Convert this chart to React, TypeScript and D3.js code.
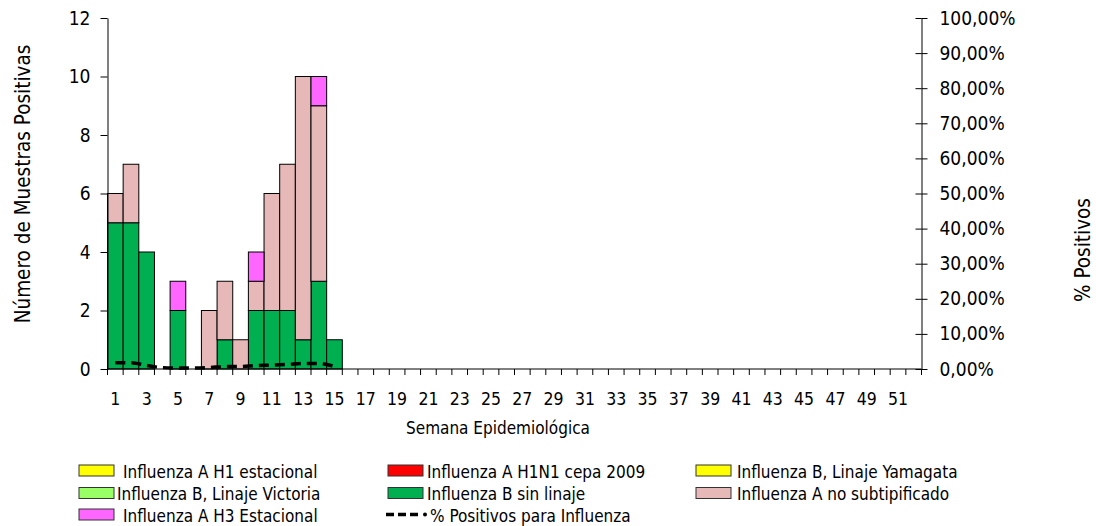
import React, { useEffect, useRef } from "react";
import * as d3 from "d3";

// semanas epidemiológicas del eje x
const weeks: number[] = d3.range(1, 53);
const dataWeeks = [1, 2, 3, 4, 5, 6, 7, 8, 9, 10, 11, 12, 13, 14, 15];

// muestras positivas por semana (semanas 1 a 15)
const fluAH1Estacional = [0, 0, 0, 0, 0, 0, 0, 0, 0, 0, 0, 0, 0, 0, 0];
const fluAH1N1 = [0, 0, 0, 0, 0, 0, 0, 0, 0, 0, 0, 0, 0, 0, 0];
const fluBYamagata = [0, 0, 0, 0, 0, 0, 0, 0, 0, 0, 0, 0, 0, 0, 0];
const fluBVictoria = [0, 0, 0, 0, 0, 0, 0, 0, 0, 0, 0, 0, 0, 0, 0];
const fluBSinLinaje = [5, 5, 4, 0, 2, 0, 0, 1, 0, 2, 2, 2, 1, 3, 1];
const fluANoSubtip = [1, 2, 0, 0, 0, 0, 2, 2, 1, 1, 4, 5, 9, 6, 0];
const fluAH3 = [0, 0, 0, 0, 1, 0, 0, 0, 0, 1, 0, 0, 0, 1, 0];

// % positivos para influenza
const pctPositivos = [1.8, 1.8, 1.0, 0.4, 0.3, 0.3, 0.4, 0.7, 0.7, 1.0, 1.1, 1.3, 1.6, 1.6, 0.7];

const leftTicks = [0, 2, 4, 6, 8, 10, 12];
const rightTicks = [0, 0.1, 0.2, 0.3, 0.4, 0.5, 0.6, 0.7, 0.8, 0.9, 1];

const seriesKeys = ["h1est", "h1n1", "byam", "bvic", "bsin", "anosub", "h3"];
const seriesLabels: { [k: string]: string } = {
  h1est: "Influenza A H1 estacional",
  h1n1: "Influenza A H1N1 cepa 2009",
  byam: "Influenza B, Linaje Yamagata",
  bvic: "Influenza B, Linaje Victoria",
  bsin: "Influenza B sin linaje",
  anosub: "Influenza A no subtipificado",
  h3: "Influenza A H3 Estacional",
};
const seriesColors: { [k: string]: string } = {
  h1est: "#FFFF00",
  h1n1: "#FF0000",
  byam: "#FFFF00",
  bvic: "#99FF66",
  bsin: "#00B050",
  anosub: "#E6B9B8",
  h3: "#FF66FF",
};

const FONT = "'DejaVu Sans Condensed', 'DejaVu Sans', sans-serif";

const Chart: React.FC = () => {
  const svgRef = useRef<SVGSVGElement | null>(null);

  useEffect(() => {
    const width = 1096;
    const height = 526;
    const left = 107.5;
    const right = 921.5;
    const top = 18;
    const bottom = 369;

    const svg = d3.select(svgRef.current);
    svg.selectAll("*").remove();
    svg.attr("width", width).attr("height", height).style("font-family", FONT);

    const x = d3.scaleBand<number>().domain(weeks).range([left, right]).padding(0);
    const yLeft = d3.scaleLinear().domain([0, 12]).range([bottom, top]);
    const yRight = d3.scaleLinear().domain([0, 1]).range([bottom, top]);

    const rows = dataWeeks.map((w, i) => ({
      week: w,
      h1est: fluAH1Estacional[i],
      h1n1: fluAH1N1[i],
      byam: fluBYamagata[i],
      bvic: fluBVictoria[i],
      bsin: fluBSinLinaje[i],
      anosub: fluANoSubtip[i],
      h3: fluAH3[i],
    }));

    const stacked = d3.stack<any>().keys(seriesKeys)(rows);

    // barras apiladas
    const layers = svg.append("g").selectAll("g").data(stacked).enter().append("g")
      .attr("fill", (d) => seriesColors[d.key]);

    layers.selectAll("rect")
      .data((d) => d.filter((p) => p[1] - p[0] > 0))
      .enter()
      .append("rect")
      .attr("x", (p: any) => x(p.data.week)!)
      .attr("width", x.bandwidth())
      .attr("y", (p) => yLeft(p[1]))
      .attr("height", (p) => yLeft(p[0]) - yLeft(p[1]))
      .attr("stroke", "#000")
      .attr("stroke-width", 1);

    // eje izquierdo
    const gl = svg.append("g")
      .attr("transform", `translate(${left},0)`)
      .call(d3.axisLeft(yLeft).tickValues(leftTicks).tickSize(7).tickSizeOuter(0).tickPadding(10) as any);
    gl.selectAll("text").style("font-size", "19px").style("font-family", FONT).attr("fill", "#000");

    // eje derecho
    const gr = svg.append("g")
      .attr("transform", `translate(${right},0)`)
      .call(
        d3.axisRight(yRight)
          .tickValues(rightTicks)
          .tickSize(6)
          .tickSizeOuter(0)
          .tickPadding(12)
          .tickFormat((d) => d3.format(".2f")(+d * 100).replace(".", ",") + "%") as any
      );
    gr.selectAll(".tick").append("line").attr("x1", -6).attr("x2", 0).attr("stroke", "#000");
    gr.selectAll("text").style("font-size", "19px").style("font-family", FONT).attr("fill", "#000");

    // eje x
    const gx = svg.append("g");
    gx.append("line")
      .attr("x1", left).attr("x2", right)
      .attr("y1", bottom).attr("y2", bottom)
      .attr("stroke", "#000");
    gx.selectAll("line.tick")
      .data(weeks.concat([53]))
      .enter()
      .append("line")
      .attr("class", "tick")
      .attr("x1", (w) => (w === 53 ? right : x(w)!))
      .attr("x2", (w) => (w === 53 ? right : x(w)!))
      .attr("y1", bottom)
      .attr("y2", bottom + 6)
      .attr("stroke", "#000");
    gx.selectAll("text")
      .data(weeks.filter((w) => w % 2 === 1))
      .enter()
      .append("text")
      .attr("x", (w) => x(w)! + x.bandwidth() / 2)
      .attr("y", 405)
      .attr("text-anchor", "middle")
      .style("font-size", "17.5px")
      .text((w) => w);

    // linea de % positivos
    const line = d3.line<number>()
      .x((_, i) => x(dataWeeks[i])! + x.bandwidth() / 2)
      .y((d) => yRight(d / 100))
      .curve(d3.curveMonotoneX);

    svg.append("path")
      .datum(pctPositivos)
      .attr("d", line)
      .attr("fill", "none")
      .attr("stroke", "#000")
      .attr("stroke-width", 3.5)
      .attr("stroke-dasharray", "10,6");

    // titulos
    svg.append("text")
      .attr("transform", "translate(30,184) rotate(-90)")
      .attr("text-anchor", "middle")
      .style("font-size", "20.5px")
      .text("Número de Muestras Positivas");

    svg.append("text")
      .attr("transform", "translate(1090,250) rotate(-90)")
      .attr("text-anchor", "middle")
      .style("font-size", "20.5px")
      .text("% Positivos");

    svg.append("text")
      .attr("x", 498)
      .attr("y", 434)
      .attr("text-anchor", "middle")
      .style("font-size", "17px")
      .text("Semana Epidemiológica");

    // leyenda
    const legendItems = [
      { key: "h1est", col: 0, row: 0, tx: 123 },
      { key: "h1n1", col: 1, row: 0, tx: 427 },
      { key: "byam", col: 2, row: 0, tx: 737 },
      { key: "bvic", col: 0, row: 1, tx: 117 },
      { key: "bsin", col: 1, row: 1, tx: 427 },
      { key: "anosub", col: 2, row: 1, tx: 737 },
      { key: "h3", col: 0, row: 2, tx: 123 },
    ];
    const colX = [79, 388, 696];
    const rowY = [465, 487.5, 509];

    const lg = svg.append("g");
    legendItems.forEach((it) => {
      lg.append("rect")
        .attr("x", colX[it.col])
        .attr("y", rowY[it.row])
        .attr("width", 35)
        .attr("height", 11)
        .attr("fill", seriesColors[it.key])
        .attr("stroke", "#333")
        .attr("stroke-width", 1);
      lg.append("text")
        .attr("x", it.tx)
        .attr("y", rowY[it.row] + 12.5)
        .style("font-size", "17px")
        .text(seriesLabels[it.key]);
    });
    lg.append("line")
      .attr("x1", 386).attr("x2", 419)
      .attr("y1", rowY[2] + 5.5).attr("y2", rowY[2] + 5.5)
      .attr("stroke", "#000")
      .attr("stroke-width", 3.5)
      .attr("stroke-dasharray", "8,4");
    lg.append("circle")
      .attr("cx", 425).attr("cy", rowY[2] + 5.5).attr("r", 2)
      .attr("fill", "#000");
    lg.append("text")
      .attr("x", 430)
      .attr("y", rowY[2] + 12.5)
      .style("font-size", "17px")
      .text("% Positivos para Influenza");
  }, []);

  return (
    <div style={{ position: "absolute", top: 0, left: 0, width: "1096px", height: "526px", background: "white" }}>
      <svg ref={svgRef} style={{ display: "block" }} />
    </div>
  );
};

export default function App() {
  return <Chart />;
}
